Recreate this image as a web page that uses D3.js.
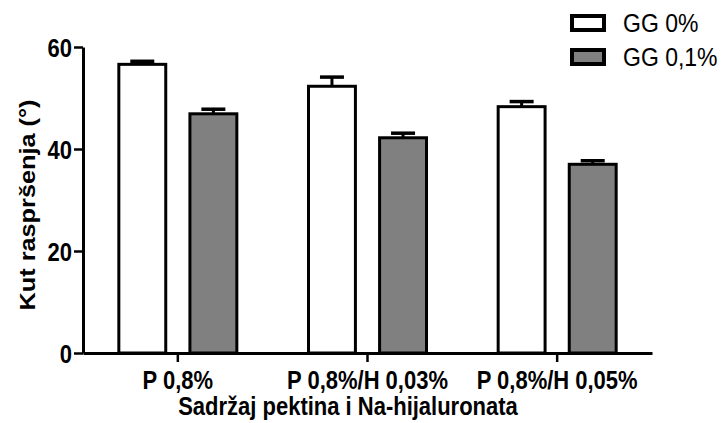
<!DOCTYPE html>
<html>
<head>
<meta charset="utf-8">
<script src="https://cdn.jsdelivr.net/npm/d3@7"></script>
<style>
  body { margin: 0; background: #fff; }
  svg { display: block; font-family: "Liberation Sans", Arial, sans-serif; }
</style>
</head>
<body>
<div id="chart"></div>
<script>
var width = 726;
var height = 423;

// data
var groups = ["P 0,8%", "P 0,8%/H 0,03%", "P 0,8%/H 0,05%"];
var seriesNames = ["GG 0%", "GG 0,1%"];
var seriesColors = ["#ffffff", "#808080"];
var gg0 = [56.6, 52.3, 48.3];
var gg0Err = [0.6, 1.8, 1.0];
var gg01 = [46.9, 42.2, 37.0];
var gg01Err = [0.9, 0.9, 0.7];
var yTicks = [0, 20, 40, 60];

var margin = { top: 47, right: 74, bottom: 70, left: 83 };
var innerW = width - margin.left - margin.right;
var innerH = height - margin.top - margin.bottom;
var stretch = 1.15; // text in the original looks taller than normal

var svg = d3.select("#chart").append("svg")
    .attr("width", width)
    .attr("height", height);

var g = svg.append("g")
    .attr("transform", `translate(${margin.left}, ${margin.top})`);

var x0 = d3.scaleBand()
    .domain(groups)
    .range([0, innerW])
    .padding(0);

var bw = x0.bandwidth();
var x1 = d3.scaleBand()
    .domain(seriesNames)
    .range([bw / 2 - 59, bw / 2 + 59])
    .paddingInner(0.34)
    .paddingOuter(0);

var y = d3.scaleLinear()
    .domain([0, 60])
    .range([innerH, 0]);

var rows = [];
groups.forEach(function(grp, i) {
    rows.push({ group: grp, series: seriesNames[0], value: gg0[i], err: gg0Err[i], color: seriesColors[0] });
    rows.push({ group: grp, series: seriesNames[1], value: gg01[i], err: gg01Err[i], color: seriesColors[1] });
});

// error bars (upper only)
var eb = g.selectAll(".err")
    .data(rows)
    .enter()
    .append("g")
    .attr("class", "err");

eb.append("line")
    .attr("x1", d => x0(d.group) + x1(d.series) + x1.bandwidth() / 2)
    .attr("x2", d => x0(d.group) + x1(d.series) + x1.bandwidth() / 2)
    .attr("y1", d => y(d.value))
    .attr("y2", d => y(d.value + d.err))
    .attr("stroke", "#000")
    .attr("stroke-width", 3);

eb.append("line")
    .attr("x1", d => x0(d.group) + x1(d.series) + x1.bandwidth() / 2 - 12)
    .attr("x2", d => x0(d.group) + x1(d.series) + x1.bandwidth() / 2 + 12)
    .attr("y1", d => y(d.value + d.err))
    .attr("y2", d => y(d.value + d.err))
    .attr("stroke", "#000")
    .attr("stroke-width", 3.5);

// bars
g.selectAll(".bar")
    .data(rows)
    .enter()
    .append("rect")
    .attr("class", "bar")
    .attr("x", d => x0(d.group) + x1(d.series))
    .attr("y", d => y(d.value))
    .attr("width", x1.bandwidth())
    .attr("height", d => y(0) - y(d.value))
    .attr("fill", d => d.color)
    .attr("stroke", "#000")
    .attr("stroke-width", 3);

// axes
var yAxis = g.append("g")
    .call(d3.axisLeft(y).tickValues(yTicks).tickSize(9).tickSizeOuter(0).tickPadding(2));

var xAxis = g.append("g")
    .attr("transform", `translate(0, ${innerH})`)
    .call(d3.axisBottom(x0).tickSize(9).tickSizeOuter(0).tickPadding(8));

[yAxis, xAxis].forEach(function(ax) {
    ax.select(".domain").attr("stroke", "#000").attr("stroke-width", 3);
    ax.selectAll(".tick line").attr("stroke", "#000").attr("stroke-width", 2.5);
    ax.selectAll(".tick text")
        .attr("fill", "#000")
        .style("font-size", "22px")
        .style("font-weight", "bold")
        .style("font-family", "'Liberation Sans', Arial, sans-serif");
});
yAxis.selectAll(".tick text")
    .attr("dy", "0.36em")
    .attr("transform", `scale(1, ${stretch})`);
xAxis.selectAll(".tick text")
    .attr("dy", 0)
    .attr("y", 36 / stretch)
    .attr("transform", `scale(1, ${stretch})`);

// axis titles
svg.append("text")
    .attr("transform", `translate(35, 205) rotate(-90) scale(${stretch}, 1)`)
    .attr("text-anchor", "middle")
    .style("font-size", "22px")
    .style("font-weight", "bold")
    .text("Kut raspršenja (°)");

svg.append("text")
    .attr("transform", `translate(348, 415) scale(1, ${stretch})`)
    .attr("text-anchor", "middle")
    .style("font-size", "22px")
    .style("font-weight", "bold")
    .text("Sadržaj pektina i Na-hijaluronata");

// legend
var legend = svg.selectAll(".legend")
    .data(seriesNames)
    .enter()
    .append("g")
    .attr("class", "legend")
    .attr("transform", (d, i) => `translate(572, ${16 + i * 34})`);

legend.append("rect")
    .attr("width", 32)
    .attr("height", 14)
    .attr("fill", (d, i) => seriesColors[i])
    .attr("stroke", "#000")
    .attr("stroke-width", 4);

legend.append("text")
    .attr("transform", `translate(51, 16) scale(1, ${stretch})`)
    .style("font-size", "23px")
    .text(d => d);
</script>
</body>
</html>
